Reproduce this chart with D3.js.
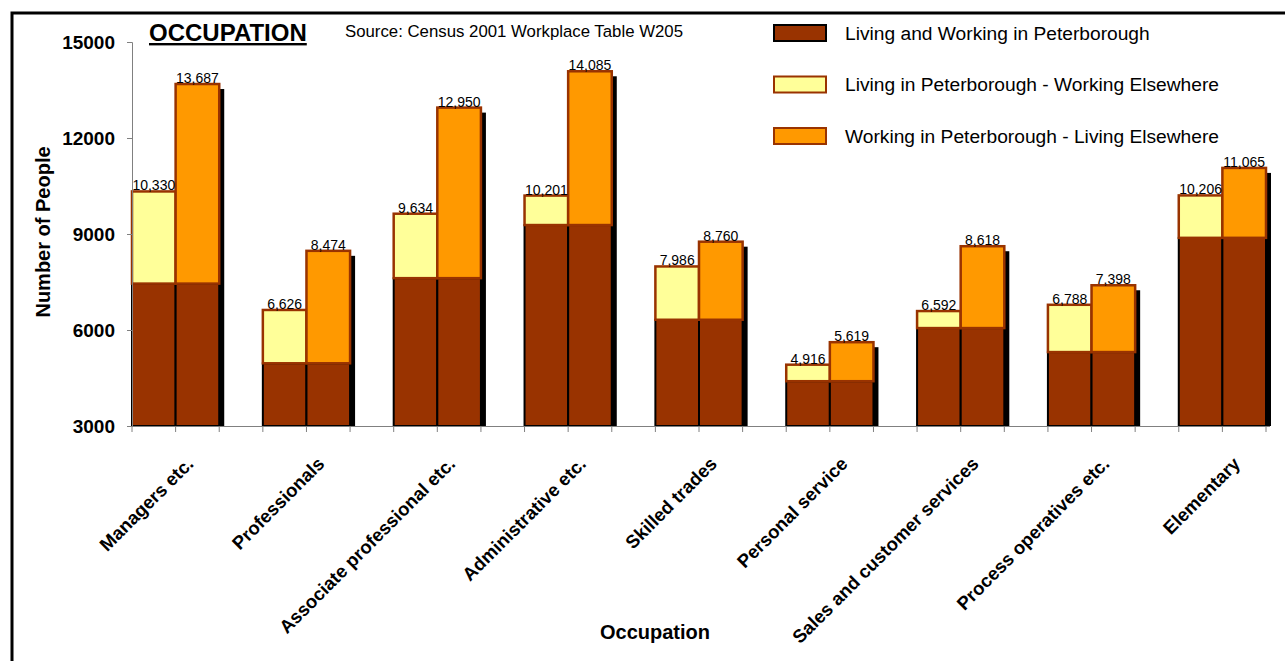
<!DOCTYPE html>
<html><head><meta charset="utf-8">
<script src="https://cdn.jsdelivr.net/npm/d3@7/dist/d3.min.js"></script>
<style>
html,body{margin:0;padding:0;background:#fff;}
svg{display:block;font-family:Arial,"Liberation Sans",sans-serif;}
</style></head>
<body>
<svg id="chart" width="1285" height="661"></svg>
<script>
const categories = ["Managers etc.","Professionals","Associate professional etc.","Administrative etc.","Skilled trades","Personal service","Sales and customer services","Process operatives etc.","Elementary"];
const livingWorking = [7450, 4960, 7620, 9280, 6320, 4400, 6060, 5310, 8880];
const livingElsewhereWorking = [2880, 1666, 2014, 921, 1666, 516, 532, 1478, 1326];
const workingLivingElsewhere = [6237, 3514, 5330, 4805, 2440, 1219, 2558, 2088, 2185];
const yTicks = [3000, 6000, 9000, 12000, 15000];
const seriesNames = ["Living and Working in Peterborough","Living in Peterborough - Working Elsewhere","Working in Peterborough - Living Elsewhere"];
const colors = ["#993300","#FFFF99","#FF9900"];
const strokes = ["#000000","#993300","#993300"];

const svg = d3.select("#chart");
const fmt = d3.format(",");

// outer frame
svg.append("rect").attr("x",12).attr("y",13).attr("width",1320).attr("height",700)
  .attr("fill","none").attr("stroke","#000").attr("stroke-width",3);

const y = d3.scaleLinear().domain([3000,15000]).range([426,42]);
const x0 = d3.scaleBand().domain(categories).range([132,1266]).paddingInner(1/3).paddingOuter(0);
const x1 = d3.scaleBand().domain(["left","right"]).range([0,x0.bandwidth()]);

const bars = [];
categories.forEach((c,i)=>{
  bars.push({cat:c, side:"left", base:livingWorking[i], top:livingWorking[i]+livingElsewhereWorking[i], s:1});
  bars.push({cat:c, side:"right", base:livingWorking[i], top:livingWorking[i]+workingLivingElsewhere[i], s:2});
});
const bx = d=>x0(d.cat)+x1(d.side);
const bw = x1.bandwidth();

// shadows
svg.append("g").selectAll("rect").data(bars.filter(d=>d.side==="right")).join("rect")
  .attr("x",d=>bx(d)+5).attr("y",d=>y(d.top)+5).attr("width",bw).attr("height",d=>y(3000)-y(d.top)-5)
  .attr("fill","#000");

// base segments
svg.append("g").selectAll("rect").data(bars).join("rect")
  .attr("x",d=>bx(d)).attr("y",d=>y(d.base)).attr("width",bw).attr("height",d=>y(3000)-y(d.base))
  .attr("fill",colors[0]).attr("stroke",strokes[0]).attr("stroke-width",2);

// upper segments
svg.append("g").selectAll("rect").data(bars).join("rect")
  .attr("x",d=>bx(d)).attr("y",d=>y(d.top)).attr("width",bw).attr("height",d=>y(d.base)-y(d.top))
  .attr("fill",d=>colors[d.s]).attr("stroke",d=>strokes[d.s]).attr("stroke-width",2.5);

// value labels
svg.append("g").selectAll("text").data(bars).join("text")
  .attr("x",d=>bx(d)+bw/2).attr("y",d=>y(d.top)-1)
  .attr("text-anchor","middle").attr("font-size",14).attr("fill","#000")
  .text(d=>fmt(d.top));

// y axis
const yAxis = svg.append("g").attr("transform","translate(132,0)")
  .call(d3.axisLeft(y).tickValues(yTicks).tickSize(5).tickPadding(12).tickFormat(d3.format("d")));
yAxis.selectAll("path,line").attr("stroke","#808080");
yAxis.selectAll("text").attr("font-size",19).attr("font-weight","bold").attr("fill","#000")
  .attr("font-family","Arial,'Liberation Sans',sans-serif").attr("dy","0.35em");

// x axis
const gx = svg.append("g");
gx.append("line").attr("x1",132).attr("x2",1270).attr("y1",y(3000)+0.5).attr("y2",y(3000)+0.5).attr("stroke","#808080");
const tickXs = [];
categories.forEach(c=>{ tickXs.push(x0(c), x0(c)+x1("right"), x0(c)+x0.bandwidth()); });
gx.selectAll("line.t").data(tickXs).join("line").attr("class","t")
  .attr("x1",d=>d).attr("x2",d=>d).attr("y1",y(3000)).attr("y2",y(3000)+6).attr("stroke","#808080");

// category labels
svg.append("g").selectAll("text").data(categories).join("text")
  .attr("transform",c=>`translate(${x0(c)+x1("right")+19},465) rotate(-45)`)
  .attr("text-anchor","end").attr("font-size",18.5).attr("font-weight","bold").text(c=>c);

// axis titles
svg.append("text").attr("transform","translate(50,232) rotate(-90)").attr("text-anchor","middle")
  .attr("font-size",20).attr("font-weight","bold").text("Number of People");
svg.append("text").attr("x",655).attr("y",639).attr("text-anchor","middle")
  .attr("font-size",20).attr("font-weight","bold").text("Occupation");

// title
svg.append("text").attr("x",149).attr("y",41).attr("font-size",24).attr("font-weight","bold")
  .attr("text-decoration","underline").text("OCCUPATION");
svg.append("text").attr("x",345).attr("y",37).attr("font-size",16.8).text("Source: Census 2001 Workplace Table W205");

// legend
const lg = svg.append("g").selectAll("g").data(seriesNames).join("g")
  .attr("transform",(d,i)=>`translate(774,${25+i*51.5})`);
lg.append("rect").attr("width",52).attr("height",16).attr("fill",(d,i)=>colors[i])
  .attr("stroke",(d,i)=>strokes[i]).attr("stroke-width",2);
lg.append("text").attr("x",71).attr("y",8).attr("dy","0.35em").attr("font-size",19.2).text(d=>d);
</script>
</body></html>
